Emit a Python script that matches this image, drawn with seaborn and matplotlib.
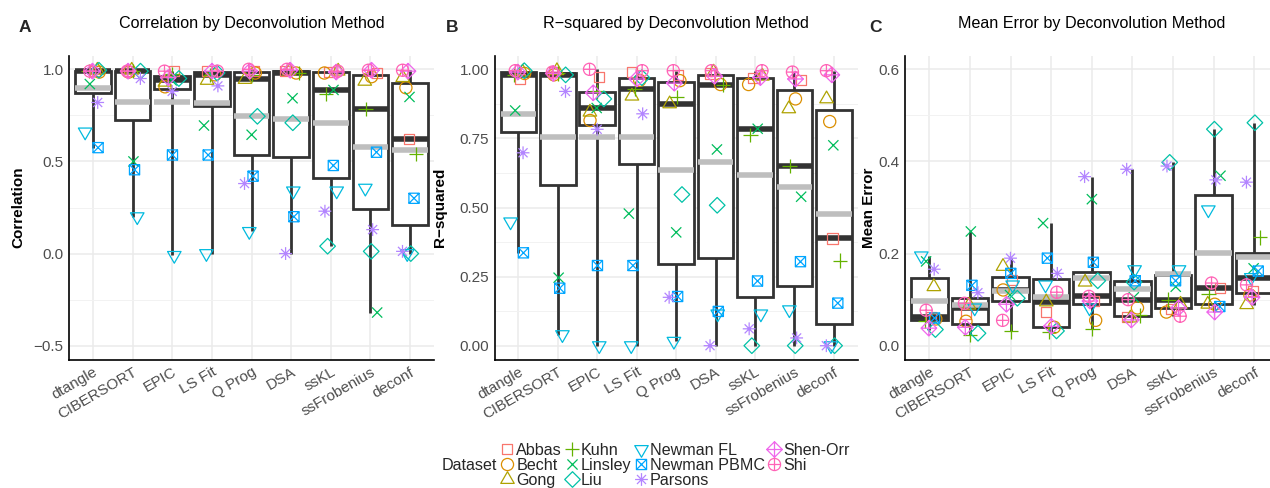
import numpy as np
import pandas as pd
import matplotlib
matplotlib.use("Agg")
import matplotlib.pyplot as plt
from matplotlib.path import Path
from matplotlib.markers import MarkerStyle
from matplotlib.lines import Line2D
import seaborn as sns

sns.set_theme(style="white")
plt.rcParams["font.family"] = ["Liberation Sans", "DejaVu Sans"]

methods = ["dtangle", "CIBERSORT", "EPIC", "LS Fit", "Q Prog", "DSA", "ssKL", "ssFrobenius", "deconf"]
datasets = ["Abbas", "Becht", "Gong", "Kuhn", "Linsley", "Liu", "Newman FL",
            "Newman PBMC", "Parsons", "Shen-Orr", "Shi"]
colors = ["#F8766D", "#DB8E00", "#AEA200", "#64B200", "#00BD5C", "#00C1A7",
          "#00BADE", "#00A6FF", "#B385FF", "#EF67EB", "#FF63B6"]

# values per method, in dataset order
# Correlation
cor_dtangle = [0.99, 0.985, 0.995, 0.99, 0.92, 0.995, 0.66, 0.575, 0.82, 0.99, 0.99]
cor_cibersort = [0.99, 0.985, 0.995, 0.99, 0.50, 0.99, 0.20, 0.455, 0.95, 0.99, 0.99]
cor_epic = [0.99, 0.905, 0.93, 0.975, 0.94, 0.95, -0.01, 0.535, 0.88, 0.955, 0.99]
cor_lsfit = [0.99, 0.97, 0.94, 0.97, 0.695, 0.98, 0.0, 0.535, 0.91, 0.99, 0.99]
cor_qprog = [0.99, 0.98, 0.945, 0.97, 0.645, 0.745, 0.12, 0.42, 0.38, 0.99, 1.0]
cor_dsa = [0.99, 0.98, 0.99, 0.98, 0.843, 0.71, 0.34, 0.20, 0.0, 0.995, 1.0]
cor_sskl = [0.985, 0.98, 0.99, 0.865, 0.888, 0.04, 0.34, 0.478, 0.23, 0.985, 0.99]
cor_ssfrob = [0.98, 0.96, 0.935, 0.785, -0.32, 0.012, 0.355, 0.55, 0.13, 0.995, 0.995]
cor_deconf = [0.62, 0.90, 0.955, 0.54, 0.85, 0.0, 0.0, 0.30, 0.012, 0.99, 0.995]

# R-squared
r2_dtangle = [0.965, 0.985, 0.99, 0.98, 0.851, 0.995, 0.448, 0.336, 0.698, 0.99, 0.995]
r2_cibersort = [0.99, 0.98, 0.995, 0.985, 0.246, 0.98, 0.04, 0.208, 0.92, 0.985, 0.99]
r2_epic = [0.971, 0.815, 0.845, 0.92, 0.86, 0.893, 0.0, 0.29, 0.783, 0.915, 1.0]
r2_lsfit = [0.99, 0.96, 0.903, 0.93, 0.478, 0.97, 0.0, 0.29, 0.839, 0.965, 0.995]
r2_qprog = [0.98, 0.959, 0.875, 0.899, 0.41, 0.547, 0.016, 0.178, 0.175, 0.95, 0.995]
r2_dsa = [0.985, 0.945, 0.99, 0.945, 0.71, 0.508, 0.115, 0.124, 0.0, 0.975, 0.995]
r2_sskl = [0.97, 0.945, 0.975, 0.763, 0.785, 0.0, 0.115, 0.234, 0.061, 0.97, 0.995]
r2_ssfrob = [0.96, 0.893, 0.857, 0.65, 0.539, 0.0, 0.13, 0.304, 0.028, 0.965, 0.99]
r2_deconf = [0.388, 0.811, 0.893, 0.308, 0.725, 0.0, 0.0, 0.154, 0.0, 0.98, 0.995]

# Mean Error
me_dtangle = [0.062, 0.058, 0.128, 0.054, 0.183, 0.035, 0.195, 0.060, 0.166, 0.038, 0.077]
me_cibersort = [0.069, 0.053, 0.088, 0.024, 0.248, 0.027, 0.082, 0.131, 0.115, 0.040, 0.092]
me_epic = [0.143, 0.121, 0.172, 0.031, 0.110, 0.103, 0.132, 0.157, 0.190, 0.090, 0.055]
me_lsfit = [0.073, 0.040, 0.095, 0.030, 0.266, 0.032, 0.132, 0.190, 0.157, 0.042, 0.116]
me_qprog = [0.097, 0.055, 0.138, 0.037, 0.318, 0.141, 0.082, 0.181, 0.367, 0.097, 0.107]
me_dsa = [0.062, 0.082, 0.060, 0.066, 0.105, 0.138, 0.165, 0.141, 0.383, 0.056, 0.100]
me_sskl = [0.080, 0.073, 0.090, 0.100, 0.128, 0.398, 0.165, 0.141, 0.390, 0.082, 0.064]
me_ssfrob = [0.126, 0.090, 0.090, 0.112, 0.369, 0.470, 0.295, 0.085, 0.360, 0.073, 0.136]
me_deconf = [0.118, 0.110, 0.089, 0.235, 0.168, 0.484, 0.148, 0.162, 0.355, 0.105, 0.132]

cor_vals = [cor_dtangle, cor_cibersort, cor_epic, cor_lsfit, cor_qprog, cor_dsa, cor_sskl, cor_ssfrob, cor_deconf]
r2_vals = [r2_dtangle, r2_cibersort, r2_epic, r2_lsfit, r2_qprog, r2_dsa, r2_sskl, r2_ssfrob, r2_deconf]
me_vals = [me_dtangle, me_cibersort, me_epic, me_lsfit, me_qprog, me_dsa, me_sskl, me_ssfrob, me_deconf]

panel_titles = ["Correlation by Deconvolution Method", "R\u2212squared by Deconvolution Method",
                "Mean Error by Deconvolution Method"]
y_labels = ["Correlation", "R\u2212squared", "Mean Error"]
panel_letters = ["A", "B", "C"]
y_ticks = [[-0.5, 0.0, 0.5, 1.0], [0.0, 0.25, 0.5, 0.75, 1.0], [0.0, 0.2, 0.4, 0.6]]
y_ticklabels = [["\u22120.5", "0.0", "0.5", "1.0"], ["0.00", "0.25", "0.50", "0.75", "1.00"],
                ["0.0", "0.2", "0.4", "0.6"]]
y_minor = [[-0.25, 0.25, 0.75], [0.125, 0.375, 0.625, 0.875], [0.1, 0.3, 0.5]]
y_limits = [(-0.575, 1.075), (-0.05, 1.05), (-0.03, 0.63)]


# ---- marker shapes (ggplot-like open symbols) ----
def build(parts):
    verts = [(1.0, 0.0)]
    codes = [Path.MOVETO]
    for v, c in parts:
        verts += list(map(tuple, v))
        codes += list(c)
    return Path(verts, codes)


def poly(pts):
    return (pts + [pts[0]], [Path.MOVETO] + [Path.LINETO] * (len(pts) - 1) + [Path.CLOSEPOLY])


def seg(a, b):
    return ([a, b], [Path.MOVETO, Path.LINETO])


def circ(r):
    c = Path.unit_circle()
    return ([tuple(v * r) for v in c.vertices], c.codes)


sq = 0.62
tri = 0.95
dia = 0.95
cr = 0.74
markers = {
    "Abbas": build([poly([(-sq, -sq), (sq, -sq), (sq, sq), (-sq, sq)])]),
    "Becht": build([circ(cr)]),
    "Gong": build([poly([(0, tri), (-0.866 * tri, -0.5 * tri), (0.866 * tri, -0.5 * tri)])]),
    "Kuhn": build([seg((-0.88, 0), (0.88, 0)), seg((0, -0.88), (0, 0.88))]),
    "Linsley": build([seg((-0.62, -0.62), (0.62, 0.62)), seg((-0.62, 0.62), (0.62, -0.62))]),
    "Liu": build([poly([(0, dia), (dia, 0), (0, -dia), (-dia, 0)])]),
    "Newman FL": build([poly([(0, -tri), (-0.866 * tri, 0.5 * tri), (0.866 * tri, 0.5 * tri)])]),
    "Newman PBMC": build([poly([(-sq, -sq), (sq, -sq), (sq, sq), (-sq, sq)]),
                          seg((-sq, -sq), (sq, sq)), seg((-sq, sq), (sq, -sq))]),
    "Parsons": build([seg((-0.78, 0), (0.78, 0)), seg((0, -0.78), (0, 0.78)),
                      seg((-0.55, -0.55), (0.55, 0.55)), seg((-0.55, 0.55), (0.55, -0.55))]),
    "Shen-Orr": build([poly([(0, dia), (dia, 0), (0, -dia), (-dia, 0)]),
                       seg((-dia, 0), (dia, 0)), seg((0, -dia), (0, dia))]),
    "Shi": build([circ(cr), seg((-cr, 0), (cr, 0)), seg((0, -cr), (0, cr))]),
}

palette = dict(zip(datasets, colors))

# fixed horizontal jitter, shared by the three panels
rng = np.random.default_rng(7)
jitter = rng.uniform(-0.2, 0.2, size=(len(methods), len(datasets)))

fig = plt.figure(figsize=(12.7, 4.88), dpi=100)
H = 488.0
W = 1270.0
ax_px = [(69.2, 364.6), (494.7, 362.8), (905.0, 373.5)]
ylab_x = [-0.140, -0.150, -0.097]
letter_x = [25, 452, 876]
ax_bottom = 1 - 359.5 / H
ax_height = (359.5 - 55.5) / H

for i, vals in enumerate([cor_vals, r2_vals, me_vals]):
    left, width = ax_px[i]
    ax = fig.add_axes([left / W, ax_bottom, width / W, ax_height])
    rows = []
    for mi, m in enumerate(methods):
        for di, d in enumerate(datasets):
            rows.append({"method": m, "dataset": d, "value": vals[mi][di],
                         "xpos": mi + jitter[mi, di]})
    df = pd.DataFrame(rows)

    sns.boxplot(data=df, x="method", y="value", order=methods, whis=(0, 100),
                width=0.9, color="white", linecolor="#333333", linewidth=2.0,
                showcaps=False, showfliers=False, showmeans=True, meanline=True,
                meanprops=dict(color="#BEBEBE", linewidth=4.0, linestyle="-"),
                medianprops=dict(color="#333333", linewidth=4.0),
                ax=ax)

    sns.scatterplot(data=df, x="xpos", y="value", hue="dataset", style="dataset",
                    hue_order=datasets, style_order=datasets, palette=palette,
                    markers=markers, s=140, linewidth=0.9, legend=False, ax=ax, zorder=4)
    pts = ax.collections[-1]
    fc = pts.get_facecolors()
    pts.set_edgecolors(fc)
    pts.set_facecolors("none")
    pts.set_linewidths(0.9)

    ax.set_xlim(-0.6, 8.6)
    ax.set_ylim(*y_limits[i])
    ax.set_xticks(range(len(methods)))
    ax.set_xticklabels(methods, rotation=30, ha="right", va="top",
                       rotation_mode="anchor", fontsize=11, color="#4D4D4D")
    ax.set_yticks(y_ticks[i])
    ax.set_yticklabels(y_ticklabels[i], fontsize=11, color="#4D4D4D")
    ax.set_yticks(y_minor[i], minor=True)
    ax.tick_params(axis="both", which="both", length=0)
    ax.tick_params(axis="y", pad=4)
    ax.tick_params(axis="x", pad=4)
    ax.set_axisbelow(True)
    ax.grid(True, which="major", color="#EBEBEB", linewidth=1.1)
    ax.grid(True, which="minor", axis="y", color="#F2F2F2", linewidth=0.7)
    for s in ["top", "right"]:
        ax.spines[s].set_visible(False)
    for s in ["left", "bottom"]:
        ax.spines[s].set_color("black")
        ax.spines[s].set_linewidth(1.2)
    ax.set_xlabel("")
    ax.set_ylabel(y_labels[i], fontsize=11, fontweight="bold", color="black")
    ax.yaxis.label.set_va("center")
    ax.yaxis.set_label_coords(ylab_x[i], 0.5)
    ax.set_title(panel_titles[i], fontsize=11.6, pad=20, color="black")
    fig.text(letter_x[i] / W, 1 - 27 / H, panel_letters[i], fontsize=12.5,
             fontweight="bold", ha="center", va="center")

handles = [Line2D([], [], linestyle="none", marker=MarkerStyle(markers[d]), markersize=11.8,
                  markerfacecolor="none", markeredgecolor=palette[d], markeredgewidth=0.9)
           for d in datasets]
fig.legend(handles, datasets, ncol=4, loc="upper left",
           bbox_to_anchor=(501 / W, 1 - 443 / H), frameon=False, fontsize=11.6,
           handlelength=0.8, handletextpad=0.15, columnspacing=0.2,
           labelspacing=0.0, borderpad=0, borderaxespad=0)
fig.text(442 / W, 1 - 466 / H, "Dataset", fontsize=11.6, ha="left", va="center")

fig.savefig("out.png", dpi=100)
